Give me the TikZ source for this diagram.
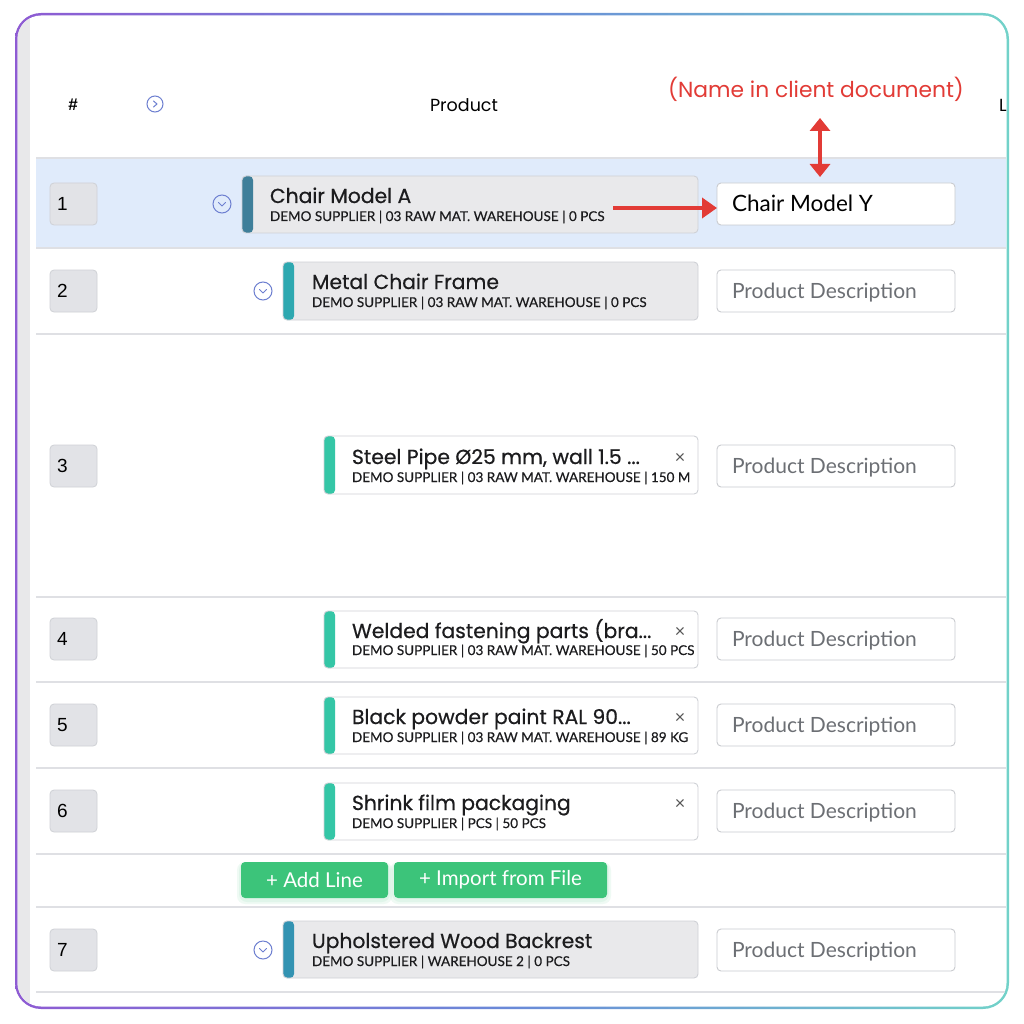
\documentclass[tikz,border=0pt]{standalone}
\usepackage{fontspec}
\setmainfont{Lato}
\newfontfamily\numfont{Liberation Sans}
\newfontfamily\notefont{Poppins}
\newfontfamily\titlefont[FakeBold=0.6]{Poppins}
\newfontfamily\subfont[FakeBold=0.4]{Lato}
\usetikzlibrary{arrows.meta}
\definecolor{c8e5bd3}{RGB}{142,91,211}
\definecolor{c6a8ad8}{RGB}{106,138,216}
\definecolor{c72d2c9}{RGB}{114,210,201}
\definecolor{ce8e8ea}{RGB}{232,232,234}
\definecolor{ce0ebfb}{RGB}{224,235,251}
\definecolor{cdfe0e4}{RGB}{223,224,228}
\definecolor{ce2e3e7}{RGB}{226,227,231}
\definecolor{ccfd1d6}{RGB}{207,209,214}
\definecolor{c6d7fd0}{RGB}{109,127,208}
\definecolor{ce9e9eb}{RGB}{233,233,235}
\definecolor{cc9cbcf}{RGB}{201,203,207}
\definecolor{c3f7f9a}{RGB}{63,127,154}
\definecolor{c2ea8b0}{RGB}{46,168,176}
\definecolor{c34c6a6}{RGB}{52,198,166}
\definecolor{c3393b2}{RGB}{51,147,178}
\definecolor{ce23b36}{RGB}{226,59,54}
\definecolor{c3cc47a}{RGB}{60,196,122}
\definecolor{c6c6f74}{RGB}{108,111,116}
\definecolor{c555555}{RGB}{85,85,85}
\definecolor{c1c1c1e}{RGB}{28,28,30}

\begin{document}
\begin{tikzpicture}[x=1pt,y=1pt,yscale=-1,inner sep=0pt,outer sep=0pt,
  numbox/.style={draw=ccfd1d6,fill=ce2e3e7,rounded corners=4pt,line width=0.8pt,
    minimum width=47pt,minimum height=42pt,anchor=north west},
  numtext/.style={anchor=west,font=\numfont\fontsize{19}{21}\selectfont},
  chev/.style={circle,draw=c6d7fd0,line width=1pt,minimum size=18pt},
  chevline/.style={draw=c6d7fd0,line width=1pt,line cap=round,line join=round},
  card/.style={draw=ccfd1d6,rounded corners=4pt,line width=0.9pt,anchor=north west,
    minimum height=57pt},
  bar/.style={path picture={\fill[#1] (path picture bounding box.north west)
    rectangle ([xshift=11pt]path picture bounding box.south west);}},
  title/.style={anchor=base west,text=c1c1c1e,font=\titlefont\fontsize{20.3}{23}\selectfont},
  sub/.style={anchor=base west,text=c1c1c1e,font=\subfont\fontsize{13.5}{15}\selectfont},
  close/.style={font=\fontsize{18}{18}\selectfont,text=c555555},
  desc/.style={draw=cc9cbcf,fill=white,rounded corners=4pt,line width=0.9pt,
    minimum width=238pt,minimum height=42pt,anchor=north west},
  ph/.style={anchor=base west,text=c6c6f74,font=\fontsize{21}{23}\selectfont},
  rowline/.style={draw=cdfe0e4,line width=1.2pt},
  btn/.style={fill=c3cc47a,rounded corners=4pt,anchor=north west,minimum height=36pt,
    text=white,font=\fontsize{20.5}{22}\selectfont},
  glow/.style={fill=c3cc47a,opacity=0.08,rounded corners=8pt},
  redarrow/.style={draw=ce23b36,line width=4.5pt,
    -{Triangle[length=15pt,width=20pt]}}]
  \useasboundingbox (0,0) rectangle (1024,1024);
  % frame
  \path[left color=c8e5bd3,right color=c72d2c9,middle color=c6a8ad8,rounded corners=26pt]
  (15,13) rectangle (1009,1009);
  \path[fill=white,rounded corners=23.5pt] (17.5,15.5) rectangle (1006.5,1006.5);
  \begin{scope}
  \clip[rounded corners=23.5pt] (17.5,15.5) rectangle (1006.5,1006.5);
  \path[fill=ce8e8ea] (17,10) rectangle (30,1010);
  \path[fill=ce0ebfb] (36,158) rectangle (1007,248);
  % header
  \path (73,105) node[font=\numfont\bfseries\fontsize{17}{18}\selectfont] (text-hash) {\#};
  \path (155,104) node[chev,minimum size=16pt] (chev0) {};
  \draw[chevline] ([xshift=-1.5pt,yshift=3pt]chev0.center) -- ([xshift=2pt]chev0.center)
  -- ([xshift=-1.5pt,yshift=-3pt]chev0.center);
  \path (464,105) node[font=\notefont\fontsize{17.5}{19}\selectfont] (text-product) {Product};
  \path (999,105) node[anchor=west,font=\notefont\fontsize{17.5}{19}\selectfont] (text-l) {L};
  % row lines
  \path[rowline] (36,158) -- (1007,158);
  \path[rowline] (36,248) -- (1007,248);
  \path[rowline] (36,334) -- (1007,334);
  \path[rowline] (36,597) -- (1007,597);
  \path[rowline] (36,682) -- (1007,682);
  \path[rowline] (36,768) -- (1007,768);
  \path[rowline] (36,854) -- (1007,854);
  \path[rowline] (36,907) -- (1007,907);
  \path[rowline] (36,992) -- (1007,992);
  % row 1
  \path (50,183) node[numbox] (num1) {};
  \path (57,204) node[numtext] (text-num1) {1};
  \path (222,204) node[chev] (chev1) {};
  \draw[chevline] ([xshift=-3.5pt,yshift=-1.5pt]chev1.center) -- ([yshift=2pt]chev1.center)
  -- ([xshift=3.5pt,yshift=-1.5pt]chev1.center);
  \path (242,176) node[card,fill=ce9e9eb,bar=c3f7f9a,minimum width=456pt] (card1) {};
  \path (270,203) node[title] (title1) {Chair Model A};
  \path (270,221) node[sub] (sub1) {DEMO SUPPLIER | 03 RAW MAT. WAREHOUSE | 0 PCS};
  \path (717,183) node[desc] (desc1) {};
  \path (732,212) node[ph,text=black,font=\fontsize{22.5}{24}\selectfont] (text-desc1) {Chair Model Y};
  % row 2
  \path (50,270) node[numbox] (num2) {};
  \path (57,291) node[numtext] (text-num2) {2};
  \path (263,291) node[chev] (chev2) {};
  \draw[chevline] ([xshift=-3.5pt,yshift=-1.5pt]chev2.center) -- ([yshift=2pt]chev2.center)
  -- ([xshift=3.5pt,yshift=-1.5pt]chev2.center);
  \path (283,262) node[card,fill=ce9e9eb,bar=c2ea8b0,minimum width=415pt,minimum height=58pt] (card2) {};
  \path (312,289) node[title] (title2) {Metal Chair Frame};
  \path (312,307) node[sub] (sub2) {DEMO SUPPLIER | 03 RAW MAT. WAREHOUSE | 0 PCS};
  \path (717,270) node[desc] (desc2) {};
  \path (732,298) node[ph] (text-desc2) {Product Description};
  % row 3
  \path (50,445) node[numbox] (num3) {};
  \path (57,466) node[numtext] (text-num3) {3};
  \path (324,436) node[card,fill=white,bar=c34c6a6,minimum width=374pt,minimum height=58pt] (card3) {};
  \path (352,464) node[title] (title3) {Steel Pipe Ø25 mm, wall 1.5 ...};
  \path (352,482) node[sub] (sub3) {DEMO SUPPLIER | 03 RAW MAT. WAREHOUSE | 150 M};
  \path (680,458) node[close] (close3) {×};
  \path (717,445) node[desc] (desc3) {};
  \path (732,473) node[ph] (text-desc3) {Product Description};
  % row 4
  \path (50,618) node[numbox] (num4) {};
  \path (57,639) node[numtext] (text-num4) {4};
  \path (324,611) node[card,fill=white,bar=c34c6a6,minimum width=374pt] (card4) {};
  \path (352,638) node[title] (title4) {Welded fastening parts (bra...};
  \path (352,655) node[sub] (sub4) {DEMO SUPPLIER | 03 RAW MAT. WAREHOUSE | 50 PCS};
  \path (680,632) node[close] (close4) {×};
  \path (717,618) node[desc] (desc4) {};
  \path (732,646) node[ph] (text-desc4) {Product Description};
  % row 5
  \path (50,704) node[numbox] (num5) {};
  \path (57,725) node[numtext] (text-num5) {5};
  \path (324,697) node[card,fill=white,bar=c34c6a6,minimum width=374pt] (card5) {};
  \path (352,724) node[title] (title5) {Black powder paint RAL 90...};
  \path (352,742) node[sub] (sub5) {DEMO SUPPLIER | 03 RAW MAT. WAREHOUSE | 89 KG};
  \path (680,718) node[close] (close5) {×};
  \path (717,704) node[desc] (desc5) {};
  \path (732,732) node[ph] (text-desc5) {Product Description};
  % row 6
  \path (50,790) node[numbox] (num6) {};
  \path (57,811) node[numtext] (text-num6) {6};
  \path (324,783) node[card,fill=white,bar=c34c6a6,minimum width=374pt] (card6) {};
  \path (352,810) node[title] (title6) {Shrink film packaging};
  \path (352,828) node[sub] (sub6) {DEMO SUPPLIER | PCS | 50 PCS};
  \path (680,804) node[close] (close6) {×};
  \path (717,790) node[desc] (desc6) {};
  \path (732,818) node[ph] (text-desc6) {Product Description};
  % buttons
  \path[glow] (237,862) rectangle (392,904);
  \path[glow] (390,862) rectangle (611,904);
  \path[glow] (239,862) rectangle (390,902);
  \path[glow] (392,862) rectangle (609,902);
  \path (241,862) node[btn,minimum width=147pt] (btn-add) {+ Add Line};
  \path (394,862) node[btn,minimum width=213pt] (btn-import) {+ Import from File};
  % row 7
  \path (50,929) node[numbox] (num7) {};
  \path (57,950) node[numtext] (text-num7) {7};
  \path (263,950) node[chev] (chev7) {};
  \draw[chevline] ([xshift=-3.5pt,yshift=-1.5pt]chev7.center) -- ([yshift=2pt]chev7.center)
  -- ([xshift=3.5pt,yshift=-1.5pt]chev7.center);
  \path (283,921) node[card,fill=ce9e9eb,bar=c3393b2,minimum width=415pt] (card7) {};
  \path (312,948) node[title] (title7) {Upholstered Wood Backrest};
  \path (312,966) node[sub] (sub7) {DEMO SUPPLIER | WAREHOUSE 2 | 0 PCS};
  \path (717,929) node[desc] (desc7) {};
  \path (732,957) node[ph] (text-desc7) {Product Description};
  \end{scope}
  % annotation
  \path (816,89) node[text=ce23b36,font=\notefont\fontsize{21.8}{24}\selectfont] (text-note)
  {(Name in client document)};
  \coordinate (note-top) at (820,118);
  \coordinate (note-bot) at (820,177);
  \coordinate (arrow-start) at (613,208);
  \draw[redarrow,line width=4pt,{Triangle[length=13pt,width=20pt]}-{Triangle[length=13pt,width=20pt]}]
  (note-top) -- (note-bot);
  \draw[redarrow] (arrow-start) -- (arrow-start -| desc1.west);
\end{tikzpicture}
\end{document}
